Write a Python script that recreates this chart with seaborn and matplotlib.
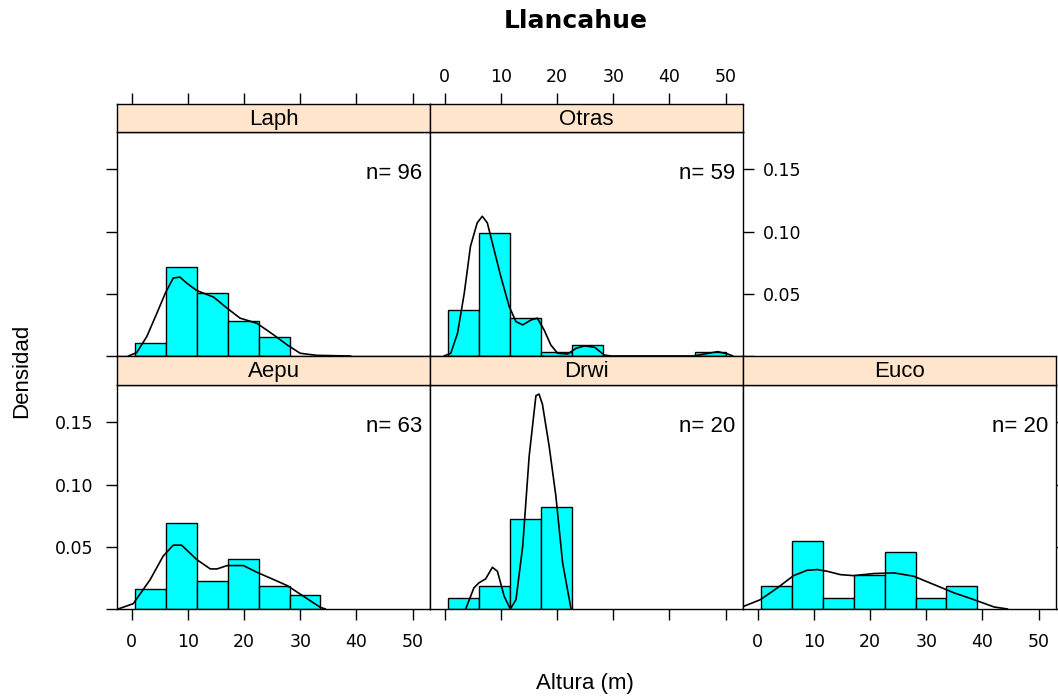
import matplotlib
matplotlib.use("Agg")
import matplotlib.pyplot as plt
import numpy as np
import pandas as pd
import seaborn as sns

sns.set_theme(style="white")
plt.rcParams["font.family"] = ["DejaVu Sans"]

# ---------------- data ----------------
title = "Llancahue"
xlabel = "Altura (m)"
ylabel = "Densidad"
panel_names = ["Laph", "Otras", "Aepu", "Drwi", "Euco"]
n_obs = [96, 59, 63, 20, 20]
breaks = [0.6, 6.1, 11.6, 17.1, 22.6, 28.1, 33.6, 39.1, 44.6, 50.1]

laph_dens = [0.0105, 0.0717, 0.0509, 0.0280, 0.0154, 0.0, 0.0, 0.0, 0.0]
otras_dens = [0.0370, 0.0986, 0.0308, 0.0031, 0.0092, 0.0, 0.0, 0.0, 0.0031]
aepu_dens = [0.0161, 0.0694, 0.0226, 0.0403, 0.0188, 0.0110, 0.0, 0.0, 0.0]
drwi_dens = [0.0091, 0.0182, 0.0727, 0.0818, 0.0, 0.0, 0.0, 0.0, 0.0]
euco_dens = [0.0182, 0.0545, 0.0091, 0.0273, 0.0455, 0.0091, 0.0182, 0.0, 0.0]

laph_kde_x = [-0.6, 0.9, 2.7, 4.5, 6.0, 7.4, 8.6, 9.8, 11.6, 14.6, 17.0, 19.3, 22.3, 25.3, 27.7, 30.0, 33.0, 39.0]
laph_kde_y = [0.0, 0.0027, 0.0156, 0.0344, 0.0505, 0.0626, 0.0634, 0.0586, 0.0526, 0.0473, 0.0384, 0.0304, 0.0263, 0.0169, 0.0089, 0.0022, 0.0005, 0.0]

otras_kde_x = [-0.1, 1.1, 2.3, 3.5, 4.6, 5.8, 6.7, 7.6, 8.8, 10.0, 11.5, 12.7, 13.9, 15.4, 16.5, 17.7, 18.9, 20.1, 21.9, 23.4, 24.9, 26.7, 28.4, 29.6, 44.4, 46.2, 48.6, 50.4, 51.3]
otras_kde_y = [0.0, 0.0022, 0.0183, 0.0505, 0.0881, 0.1070, 0.1123, 0.1070, 0.0854, 0.0639, 0.0397, 0.0276, 0.0250, 0.0290, 0.0304, 0.0210, 0.0089, 0.0022, 0.0016, 0.0062, 0.0081, 0.0070, 0.0008, 0.0, 0.0, 0.0016, 0.0035, 0.0016, 0.0]

aepu_kde_x = [-2.4, 0.3, 3.3, 5.6, 7.4, 8.9, 11.6, 14.0, 15.2, 17.0, 19.9, 22.3, 25.3, 27.7, 30.6, 33.6, 34.5]
aepu_kde_y = [0.0, 0.0043, 0.0236, 0.0424, 0.0513, 0.0513, 0.0397, 0.0322, 0.0322, 0.0349, 0.0349, 0.0295, 0.0236, 0.0188, 0.0102, 0.0013, 0.0]

drwi_kde_x = [3.75, 5.2, 6.1, 7.3, 8.5, 9.4, 10.6, 11.7, 12.7, 13.9, 15.05, 16.25, 16.8, 17.4, 18.6, 19.8, 21.0, 22.5]
drwi_kde_y = [0.0, 0.0169, 0.0210, 0.0242, 0.0335, 0.0303, 0.0102, 0.0, 0.0075, 0.0505, 0.1230, 0.1714, 0.1727, 0.1647, 0.1310, 0.0908, 0.0371, 0.0]

euco_kde_x = [-2.5, 0.5, 3.5, 6.4, 8.8, 10.6, 12.4, 14.75, 17.1, 20.7, 24.3, 27.8, 31.4, 35.0, 38.5, 42.1, 44.5]
euco_kde_y = [0.0021, 0.0075, 0.0169, 0.0268, 0.0311, 0.0317, 0.0303, 0.0276, 0.0268, 0.0285, 0.0290, 0.0263, 0.0196, 0.0129, 0.0075, 0.0016, 0.0]

x_ticks = [0, 10, 20, 30, 40, 50]
y_ticks = [0.0, 0.05, 0.10, 0.15]
y_tick_labels = ["", "0.05", "0.10", "0.15"]

dens_list = [laph_dens, otras_dens, aepu_dens, drwi_dens, euco_dens]
kde_list = [(laph_kde_x, laph_kde_y), (otras_kde_x, otras_kde_y), (aepu_kde_x, aepu_kde_y),
            (drwi_kde_x, drwi_kde_y), (euco_kde_x, euco_kde_y)]

# ---------------- layout ----------------
W, H = 1058, 696
fig = plt.figure(figsize=(W / 100, H / 100), dpi=100)
fig.patch.set_facecolor("white")

col_left = [117, 430, 743]
col_w = 313
rows = {0: (104, 132, 356), 1: (356, 385, 609)}
pos = [(0, 0), (0, 1), (1, 0), (1, 1), (1, 2)]

XLIM = (-2.6, 53.1)
YLIM = (0, 0.18)
LABEL_SANS = ["Liberation Sans", "DejaVu Sans"]
TICK_FS = 12.5
TICK_LEN = 8


def fig_rect(x0, y0, x1, y1):
    return [x0 / W, 1 - y1 / H, (x1 - x0) / W, (y1 - y0) / H]


for i, name in enumerate(panel_names):
    r, c = pos[i]
    s_top, s_bot, p_bot = rows[r]
    x0 = col_left[c]
    x1 = x0 + col_w
    ax = fig.add_axes(fig_rect(x0, s_bot, x1, p_bot))
    sax = fig.add_axes(fig_rect(x0, s_top, x1, s_bot))

    dens = dens_list[i]
    keep = [k for k in range(len(dens)) if dens[k] > 0]
    mids = [(breaks[k] + breaks[k + 1]) / 2 for k in range(len(dens))]
    df = pd.DataFrame({"mid": mids, "dens": dens})
    sns.histplot(data=df, x="mid", weights="dens", bins=breaks, stat="count",
                 color="#00FFFF", edgecolor="black", linewidth=1.0, alpha=1.0, ax=ax)
    # hide zero-height bars (lattice draws nothing there)
    for k, patch in enumerate(ax.patches):
        if k < len(dens) and dens[k] == 0:
            patch.set_visible(False)
    kx, ky = kde_list[i]
    kdf = pd.DataFrame({"x": kx, "y": ky})
    sns.lineplot(data=kdf, x="x", y="y", color="black", linewidth=1.2,
                 sort=False, estimator=None, ax=ax)

    ax.set_xlim(*XLIM)
    ax.set_ylim(*YLIM)
    ax.set_xlabel("")
    ax.set_ylabel("")
    ax.set_facecolor("white")
    for sp in ax.spines.values():
        sp.set_color("black")
        sp.set_linewidth(1.0)
        sp.set_visible(True)
        sp.set_zorder(5)

    ax.text(0.975, 0.815, f"n= {n_obs[i]}", transform=ax.transAxes, ha="right", va="center",
            fontsize=16, family=LABEL_SANS, color="black")

    ax.tick_params(axis="both", which="both", bottom=False, top=False, left=False, right=False,
                   labelbottom=False, labeltop=False, labelleft=False, labelright=False,
                   direction="out", length=TICK_LEN, width=1.0, color="black",
                   labelsize=TICK_FS, labelcolor="black")
    ax.set_xticks(x_ticks)
    ax.set_yticks(y_ticks)
    ax.set_yticklabels(y_tick_labels)

    if name == "Laph":
        ax.tick_params(axis="y", left=True)
    if name == "Otras":
        ax.tick_params(axis="y", right=True, labelright=True, pad=6)
    if name == "Aepu":
        ax.tick_params(axis="y", left=True, labelleft=True, pad=9)
        ax.tick_params(axis="x", bottom=True, labelbottom=True, pad=9)
    if name == "Drwi":
        ax.tick_params(axis="x", bottom=True)
    if name == "Euco":
        ax.tick_params(axis="x", bottom=True, labelbottom=True, pad=9)
        ax.tick_params(axis="y", right=True)

    # strip
    sax.set_facecolor("#FFE5CC")
    sax.set_xlim(*XLIM)
    sax.set_ylim(0, 1)
    sax.set_yticks([])
    sax.set_xticks(x_ticks)
    for sp in sax.spines.values():
        sp.set_color("black")
        sp.set_linewidth(1.0)
        sp.set_visible(True)
    sax.tick_params(axis="both", which="both", bottom=False, top=False, left=False, right=False,
                    labelbottom=False, labeltop=False, labelleft=False, labelright=False,
                    direction="out", length=TICK_LEN, width=1.0, color="black",
                    labelsize=TICK_FS, labelcolor="black")
    if r == 0:
        sax.tick_params(axis="x", top=True, labeltop=(name == "Otras"), pad=5)
    sax.text(0.5, 0.45, name, transform=sax.transAxes, ha="center", va="center",
             fontsize=16, family=LABEL_SANS, color="black")

fig.text(576 / W, 1 - 21 / H, title, ha="center", va="center", fontsize=18,
         fontweight="bold", family=["DejaVu Sans"], color="black")
fig.text(585 / W, 1 - 683 / H, xlabel, ha="center", va="center", fontsize=16,
         family=LABEL_SANS, color="black")
fig.text(22 / W, 1 - 371 / H, ylabel, ha="center", va="center", rotation=90,
         fontsize=16, family=LABEL_SANS, color="black")

fig.savefig("out.png", dpi=100, facecolor="white")
